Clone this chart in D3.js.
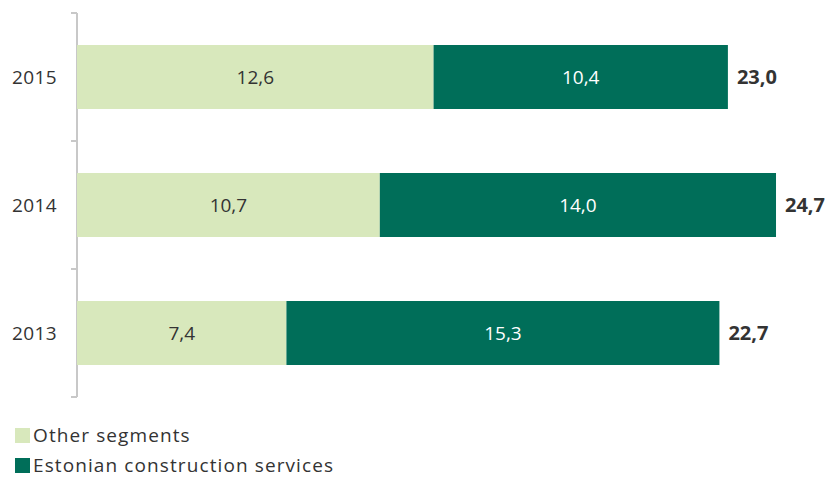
<!DOCTYPE html>
<html>
<head>
<meta charset="utf-8">
<script src="https://cdn.jsdelivr.net/npm/d3@7"></script>
<style>
  body { margin: 0; background: #fff; }
  text { font-family: "Open Sans", sans-serif; }
</style>
</head>
<body>
<script>
const years = ['2015', '2014', '2013'];
const otherSegments = [12.6, 10.7, 7.4];
const estonianServices = [10.4, 14.0, 15.3];
const seriesNames = ['Other segments', 'Estonian construction services'];
const colors = ['#d8e8bc', '#006e59'];

const W = 832, H = 477;
const fmt = v => d3.format('.1f')(v).replace('.', ',');

const svg = d3.select('body').append('svg')
  .attr('width', W).attr('height', H);

const x = d3.scaleLinear().domain([0, 30]).range([77, 926]);
const y = d3.scaleBand().domain(years).range([13, 397]).paddingInner(0.5).paddingOuter(0.25);

const rows = years.map((yr, i) => ({ yr, a: otherSegments[i], b: estonianServices[i] }));

// axis line + ticks between categories
const axis = svg.append('g').attr('stroke', '#c8c8c8').attr('stroke-width', 2);
axis.append('line').attr('x1', 77).attr('x2', 77).attr('y1', 13).attr('y2', 397);
const step = y.step();
d3.range(years.length + 1).forEach(i => {
  const ty = 13 + i * step;
  axis.append('line').attr('x1', 71).attr('x2', 77).attr('y1', ty).attr('y2', ty);
});

svg.append('g').selectAll('text').data(years).join('text')
  .attr('x', 57).attr('y', d => y(d) + y.bandwidth() / 2)
  .attr('dy', '0.35em').attr('text-anchor', 'end')
  .attr('font-size', 19).attr('letter-spacing', 0.4).attr('fill', '#333').text(d => d);

// other segments
svg.append('g').selectAll('rect').data(rows).join('rect')
  .attr('x', x(0)).attr('y', d => y(d.yr))
  .attr('width', d => x(d.a) - x(0)).attr('height', y.bandwidth())
  .attr('fill', colors[0]);

// estonian construction services
svg.append('g').selectAll('rect').data(rows).join('rect')
  .attr('x', d => x(d.a)).attr('y', d => y(d.yr))
  .attr('width', d => x(d.a + d.b) - x(d.a)).attr('height', y.bandwidth())
  .attr('fill', colors[1]);

// value labels
svg.append('g').selectAll('text').data(rows).join('text')
  .attr('x', d => (x(0) + x(d.a)) / 2).attr('y', d => y(d.yr) + y.bandwidth() / 2)
  .attr('dy', '0.35em').attr('text-anchor', 'middle')
  .attr('font-size', 19).attr('fill', '#333').text(d => fmt(d.a));

svg.append('g').selectAll('text').data(rows).join('text')
  .attr('x', d => (x(d.a) + x(d.a + d.b)) / 2).attr('y', d => y(d.yr) + y.bandwidth() / 2)
  .attr('dy', '0.35em').attr('text-anchor', 'middle')
  .attr('font-size', 19).attr('fill', '#fff').text(d => fmt(d.b));

// totals
svg.append('g').selectAll('text').data(rows).join('text')
  .attr('x', d => x(d.a + d.b) + 9).attr('y', d => y(d.yr) + y.bandwidth() / 2)
  .attr('dy', '0.35em')
  .attr('font-size', 20).attr('font-weight', 'bold').attr('fill', '#333')
  .text(d => fmt(d.a + d.b));

// legend
const leg = svg.append('g').selectAll('g').data(seriesNames).join('g')
  .attr('transform', (d, i) => `translate(15, ${428 + i * 30})`);
leg.append('rect').attr('width', 15).attr('height', 15).attr('fill', (d, i) => colors[i]);
leg.append('text').attr('x', 18).attr('y', 14)
  .attr('font-size', 19).attr('letter-spacing', 1.1).attr('fill', '#333').text(d => d);
</script>
</body>
</html>
